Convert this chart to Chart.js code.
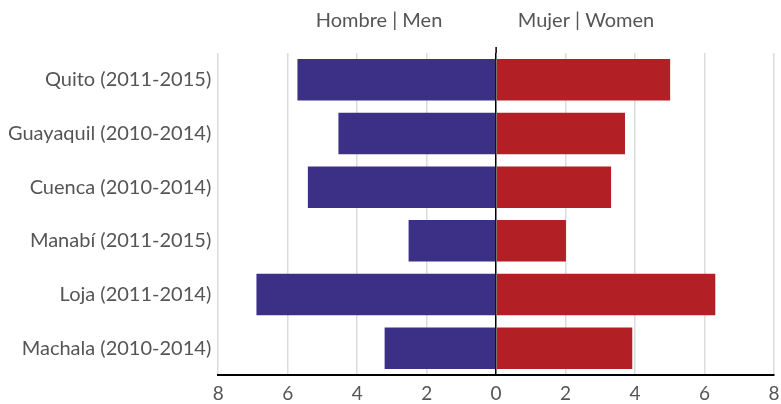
<!DOCTYPE html>
<html>
<head>
<meta charset="utf-8">
<script src="https://cdn.jsdelivr.net/npm/chart.js@4"></script>
<style>
  html, body { margin: 0; padding: 0; background: #fff; }
  #wrap { width: 781px; height: 404px; }
</style>
</head>
<body>
<div id="wrap"><canvas id="grafico"></canvas></div>
<script>
// datos del gráfico
const ciudades = ["Quito (2011-2015)", "Guayaquil (2010-2014)", "Cuenca (2010-2014)",
  "Manabí (2011-2015)", "Loja (2011-2014)", "Machala (2010-2014)"];
const hombres = [5.72, 4.54, 5.42, 2.52, 6.9, 3.21];
const mujeres = [5.01, 3.71, 3.31, 2.01, 6.31, 3.92];
const encabezados = ["Hombre | Men", "Mujer | Women"];
const ticksX = [-8, -6, -4, -2, 0, 2, 4, 6, 8];

const fuente = "Lato, 'Open Sans', sans-serif";
const gris = "#555555";

// títulos encima de cada lado
const encabezadoPlugin = {
  id: "encabezado",
  afterDraw(chart) {
    const ctx = chart.ctx;
    const area = chart.chartArea;
    const x = chart.scales.x;
    ctx.save();
    // línea central extendida
    ctx.strokeStyle = "#000";
    ctx.lineWidth = 1.5;
    ctx.beginPath();
    ctx.moveTo(x.getPixelForValue(0), 47);
    ctx.lineTo(x.getPixelForValue(0), area.top);
    ctx.stroke();
    ctx.font = "20px " + fuente;
    ctx.fillStyle = gris;
    ctx.textAlign = "center";
    ctx.textBaseline = "middle";
    ctx.fillText(encabezados[0], 379, 21);
    ctx.fillText(encabezados[1], 586, 21);
    ctx.restore();
  }
};

const ctx = document.getElementById("grafico").getContext("2d");
new Chart(ctx, {
  type: "bar",
  data: {
    labels: ciudades,
    datasets: [{
      label: encabezados[0],
      data: hombres.map(v => -v),
      backgroundColor: "#3c3086",
      barPercentage: 0.772,
      categoryPercentage: 1
    }, {
      label: encabezados[1],
      data: mujeres,
      backgroundColor: "#b21f24",
      barPercentage: 0.772,
      categoryPercentage: 1
    }]
  },
  options: {
    indexAxis: "y",
    responsive: true,
    maintainAspectRatio: false,
    animation: false,
    layout: { padding: { top: 53, right: 0, left: 9, bottom: -8 } },
    plugins: {
      legend: { display: false },
      tooltip: { enabled: false }
    },
    scales: {
      x: {
        min: -8,
        max: 8,
        afterBuildTicks: axis => { axis.ticks = ticksX.map(v => ({ value: v })); },
        afterFit: axis => { axis.paddingRight = 7; },
        ticks: {
          callback: v => Math.abs(v),
          color: gris,
          font: { size: 19, family: fuente, lineHeight: 1 },
          padding: 9
        },
        grid: {
          color: c => c.tick && c.tick.value === 0 ? "#000" : "#dcdcdc",
          lineWidth: 1.5,
          drawTicks: false
        },
        border: { color: "#000", width: 2 }
      },
      y: {
        stacked: true,
        ticks: {
          color: gris,
          font: { size: 20, family: fuente },
          padding: -1
        },
        grid: { display: false },
        border: { display: false }
      }
    }
  },
  plugins: [encabezadoPlugin]
});
</script>
</body>
</html>
